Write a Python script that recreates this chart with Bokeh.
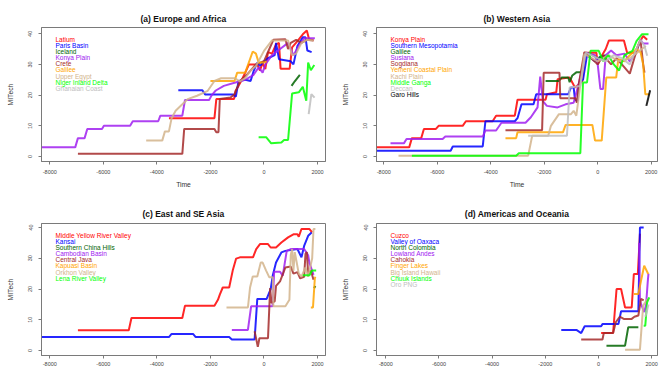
from bokeh.plotting import figure
from bokeh.models import Range1d, FixedTicker, Label
from bokeh.layouts import column, row
from bokeh.embed import file_html
from bokeh.resources import INLINE

FONT = "Liberation Sans"
YEAR_TICKS = [-8000, -6000, -4000, -2000, 0, 2000]
MITECH_TICKS = [0, 10, 20, 30, 40]

# ---------------- (a) Europe and Africa ----------------
latium = [(-3550, 12.5), (-1850, 12.5), (-1780, 18.7), (-1120, 18.7), (-1060, 21.4), (-950, 23), (-850, 24.6),
          (-700, 27.3), (-560, 30), (-250, 30), (-150, 28), (-50, 30.5), (50, 28.5), (150, 34), (300, 33.5),
          (450, 36.5), (560, 37), (620, 28.6), (960, 28.6), (1050, 35.5), (1250, 37.6), (1450, 39.8),
          (1600, 41), (1680, 38.3), (1850, 37.8)]
paris_basin = [(-3200, 21.6), (-2300, 21.6), (-2200, 20.2), (-1150, 20.2), (-1050, 19.5), (-950, 24.6),
               (-700, 25), (-500, 24.6), (-380, 28), (-250, 30.6), (-150, 29.5), (0, 31), (150, 32), (400, 33),
               (450, 37), (560, 31.7), (1000, 31), (1100, 30), (1250, 36), (1450, 38.8), (1550, 38.8),
               (1620, 34.5), (1780, 34)]
iceland = [(1030, 23), (1150, 24.5), (1340, 26.6)]
konya_a = [(-8330, 3), (-7050, 3), (-6950, 6), (-6700, 6), (-6600, 9), (-6050, 9), (-5980, 10), (-5000, 10),
           (-4900, 11.5), (-3950, 11.5), (-3870, 13.3), (-3050, 13.3), (-2950, 18.4), (-2050, 18.4),
           (-1950, 20), (-1800, 21.5), (-1500, 23), (-1100, 24), (-900, 24.5), (-700, 25), (-400, 26.5),
           (-200, 29), (-50, 27.3), (50, 30), (300, 33), (600, 35), (900, 37), (1100, 33), (1300, 36),
           (1500, 38.5), (1900, 38.5)]
crete = [(-6950, 0.9), (-3050, 0.9), (-2980, 9), (-1850, 9), (-1780, 7.9), (-1700, 7.9), (-1650, 18.7),
         (-1250, 19.2), (-1100, 20.3), (-900, 24.5), (-600, 27), (-300, 30), (0, 31), (200, 35), (350, 38),
         (800, 38.2), (900, 35), (1000, 37), (1200, 38), (1400, 37), (1600, 38), (1850, 37.8)]
galilee_a = [(-2000, 24.6), (-1100, 24.6), (-1000, 27.3), (-700, 27.3), (-420, 34.2), (-300, 33.5),
             (-200, 30.6), (0, 30.6), (100, 31)]
upper_egypt = [(-4400, 5.2), (-3800, 5.2), (-3700, 8.2), (-3550, 8.2), (-3450, 12.5), (-3300, 14.9),
               (-3050, 17), (-2850, 18.7), (-2500, 19.8), (-2100, 21.4), (-1850, 24.6), (-1600, 25.5),
               (-1100, 25.5), (-900, 24.5), (-700, 25.5), (-500, 28), (-300, 29.5), (0, 34.4), (300, 37.8),
               (900, 37.8), (1050, 33), (1200, 33.5), (1400, 37), (1600, 38), (1850, 37.8)]
niger_delta = [(-200, 6.3), (80, 6.3), (270, 4.3), (650, 4.6), (750, 5.4), (900, 5.4), (1050, 20.5),
               (1300, 20.9), (1450, 22.7), (1580, 18.2), (1650, 30.6), (1750, 28.1), (1880, 29.8)]
ghanaian_coast = [(1670, 13.8), (1770, 20.3), (1890, 19.2)]

# ---------------- (b) Western Asia ----------------
konya_b = [(-8300, 3), (-7050, 3), (-6950, 6), (-6600, 6), (-6500, 9), (-6050, 9), (-5950, 10), (-5050, 10),
           (-4930, 11.5), (-3930, 11.5), (-3800, 13.3), (-3100, 13.3), (-3000, 18.5), (-1950, 18.5),
           (-1900, 20.3), (-1550, 20.9), (-1500, 25.2), (-1050, 25.7), (-850, 22.5), (-700, 23.5),
           (-580, 24.6), (-450, 33.8), (-50, 33.8), (0, 30), (100, 32), (300, 35), (420, 37.8), (980, 37.8),
           (1100, 33.8), (1400, 33.8), (1550, 37), (1700, 39.2), (1850, 38)]
s_mesopotamia = [(-8300, 1.9), (-5500, 1.9), (-5420, 3.3), (-4300, 3.3), (-4200, 11.5), (-3100, 11.5),
                 (-3000, 12.5), (-2850, 17), (-2400, 17), (-2300, 20.3), (-1100, 20.3), (-1000, 22.5),
                 (-900, 22.5), (-850, 18.5), (-750, 18), (-700, 24), (-550, 25), (-400, 33), (-100, 31),
                 (100, 32.5), (350, 32.8)]
galilee_b = [(-1950, 24.6), (-1450, 24.6), (-1350, 25.7), (-1100, 25.7), (-1050, 24.2), (-950, 26.4),
             (-800, 27.4), (-600, 27.4), (-450, 33.8), (-200, 33), (0, 32), (300, 33)]
susiana = [(-7750, 4.3), (-7250, 4.3), (-7150, 5.7), (-5800, 5.7), (-5700, 6.5), (-4300, 6.5), (-4200, 8.5),
           (-3800, 8.5), (-3600, 11), (-2700, 11), (-2500, 12.8), (-2250, 16), (-2150, 26), (-2050, 18),
           (-1900, 16.5), (-1500, 16), (-1200, 17), (-900, 17.5), (-700, 24), (-450, 33.8), (-100, 33),
           (0, 30), (100, 22), (200, 22), (300, 33), (500, 34.5), (700, 33), (1000, 33.5), (1200, 31),
           (1400, 33), (1600, 38), (1700, 36.8), (1900, 36.8)]
sogdiana = [(-3450, 8.6), (-2080, 8.6), (-2020, 27.3), (-1430, 27.3), (-1400, 19), (-830, 19), (-780, 17.5),
            (-700, 24), (-500, 34), (0, 30), (200, 33), (500, 30), (700, 32), (1000, 29), (1200, 27),
            (1400, 33), (1600, 38), (1700, 30), (1750, 27.3)]
yemeni_coast = [(-3450, 6), (-3050, 6), (-3000, 7.9), (-1300, 7.9), (-1200, 10.3), (-200, 10.3), (-100, 5.2),
                (150, 5.2), (320, 25.7), (690, 25.7), (770, 31.7), (1000, 31), (1200, 33), (1450, 35),
                (1600, 34), (1700, 30), (1780, 20.3), (1950, 20.3)]
kachi_plain = [(-7450, 0.3), (-2600, 0.3), (-2450, 6.8), (-1850, 6.8), (-1750, 10), (-1450, 13.8),
               (-1000, 13.8), (-900, 14.9), (-800, 13.3), (-700, 20), (-500, 33.3), (0, 31), (400, 33),
               (800, 31), (1200, 32), (1500, 34), (1800, 36)]
middle_ganga = [(-6950, 0.3), (-3050, 0.3), (-2950, 1.1), (-650, 1.1), (-550, 24.1), (-400, 24.1),
                (-270, 34.4), (40, 34.4), (200, 31.1), (400, 33), (600, 30), (800, 28), (1000, 33),
                (1300, 34.4), (1450, 37.6), (1650, 39.8), (1900, 39.8)]
deccan = [(-2600, 6.8), (-1150, 6.8), (-1050, 22.5), (-650, 23), (-450, 33.8), (0, 32), (300, 31),
          (600, 33), (900, 32), (1200, 30), (1400, 34), (1600, 38), (1750, 36), (1850, 32.8)]
garo_hills = [(1820, 16.5), (1960, 21.6)]

# ---------------- (c) East and SE Asia ----------------
yellow_river = [(-6950, 6.6), (-5050, 6.6), (-4950, 10.6), (-3050, 10.6), (-2950, 14.6), (-1850, 14.6),
                (-1720, 16.5), (-1650, 18.2), (-1540, 20.5), (-1300, 20.5), (-1160, 26.3), (-1040, 29.9),
                (-900, 30.3), (-410, 30.3), (-290, 33), (-150, 34.6), (150, 34.6), (250, 33.5), (450, 33.5),
                (650, 35.1), (900, 36.8), (1100, 37.8), (1250, 37.8), (1300, 37), (1400, 39.5), (1700, 39.5),
                (1800, 38.4)]
kansai = [(-8330, 4.4), (-3550, 4.4), (-3450, 5.4), (-2650, 5.4), (-2550, 4.4), (-1300, 4.4), (-1200, 3.6),
          (-350, 3.6), (-250, 16.8), (100, 16.8), (250, 20), (330, 24.5), (450, 28.6), (650, 31.9),
          (800, 32.4), (1250, 33), (1400, 30.3), (1500, 34), (1650, 37.3), (1780, 38.4)]
s_china_hills = [(1870, 20.3), (1920, 21)]
cambodian_basin = [(-1200, 6.7), (-600, 6.7), (-480, 14.4), (320, 14.4), (380, 25.6), (600, 25.6),
                   (700, 24.3), (850, 32.4), (1000, 33), (1500, 33), (1650, 31), (1700, 28.4), (1850, 24.6)]
central_java = [(-350, 6.3), (-230, 1.2), (-170, 4), (150, 4), (230, 20.3), (280, 15.5), (400, 16),
                (450, 21), (600, 22.5), (800, 27), (1000, 27.3), (1100, 25), (1250, 25.5), (1350, 23.5),
                (1500, 24), (1550, 31.4), (1600, 32), (1650, 25), (1750, 26), (1850, 23)]
kapuasi_basin = [(1750, 14), (1830, 14), (1900, 23.5), (1920, 24)]
orkhon_valley = [(-1400, 14), (-600, 14), (-520, 20.5), (-420, 24.1), (-250, 24.1), (-120, 28.6), (-50, 28.6),
                 (80, 26), (200, 23.8), (330, 23.8), (350, 14.4), (800, 14.4), (950, 16.5), (1000, 31),
                 (1050, 33), (1100, 26), (1150, 32), (1300, 25), (1400, 24), (1550, 27), (1650, 24),
                 (1800, 30), (1850, 39.5), (1920, 39.5)]
lena_river = [(1450, 24.5), (1700, 24.5), (1800, 26), (1950, 26)]

# ---------------- (d) Americas and Oceania ----------------
cuzco = [(100, 5.7), (550, 5.7), (680, 20), (850, 20), (1000, 14), (1250, 14), (1330, 24.9), (1480, 24.9),
         (1560, 38)]
oaxaca = [(-1400, 6.7), (-830, 6.7), (-650, 5.7), (-520, 7.9), (100, 7.9), (150, 8.6), (750, 8.6),
          (850, 12.8), (1500, 12.8), (1560, 40), (1700, 40)]
north_colombia = [(300, 1.6), (1000, 1.6), (1120, 7.6), (1500, 7.6)]
lowland_andes = [(1530, 35), (1560, 16), (1650, 14), (1720, 12.5), (1790, 14.8), (1850, 22), (1880, 25)]
cahokia = [(-650, 3.6), (150, 3.6), (200, 5.7), (550, 5.7), (650, 9.2), (800, 11), (950, 10.3), (1250, 10.3),
           (1350, 11), (1500, 11.4), (1600, 16.8), (1700, 16.3)]
finger_lakes = [(1330, 18.4), (1500, 18.4), (1600, 22.7), (1720, 27.6), (1870, 24.9)]
big_island = [(1000, 0.3), (1560, 0.3), (1680, 14.6), (1850, 16.8)]
chuuk_islands = [(1700, 8.1), (1760, 8.1), (1830, 15.7), (1910, 17.3)]
oro_png = [(1760, 11), (1820, 12.8), (1880, 15)]

PALETTE = ["#FF0000", "#0000FF", "#006400", "#A020F0", "#A52A2A", "#FFA500", "#D2B48C", "#00FF00",
           "#BEBEBE", "#000000"]

names_a = ["Latium", "Paris Basin", "Iceland", "Konya Plain", "Crete", "Galilee", "Upper Egypt",
           "Niger Inland Delta", "Ghanaian Coast"]
series_a = [latium, paris_basin, iceland, konya_a, crete, galilee_a, upper_egypt, niger_delta, ghanaian_coast]
names_b = ["Konya Plain", "Southern Mesopotamia", "Galilee", "Susiana", "Sogdiana", "Yemeni Coastal Plain",
           "Kachi Plain", "Middle Ganga", "Deccan", "Garo Hills"]
series_b = [konya_b, s_mesopotamia, galilee_b, susiana, sogdiana, yemeni_coast, kachi_plain, middle_ganga,
            deccan, garo_hills]
names_c = ["Middle Yellow River Valley", "Kansai", "Southern China Hills", "Cambodian Basin", "Central Java",
           "Kapuasi Basin", "Orkhon Valley", "Lena River Valley"]
series_c = [yellow_river, kansai, s_china_hills, cambodian_basin, central_java, kapuasi_basin,
            orkhon_valley, lena_river]
colors_c = ["#FF0000", "#0000FF", "#006400", "#A020F0", "#A52A2A", "#FFA500", "#D2B48C", "#00FF00"]
names_d = ["Cuzco", "Valley of Oaxaca", "North Colombia", "Lowland Andes", "Cahokia", "Finger Lakes",
           "Big Island Hawaii", "Chuuk Islands", "Oro PNG"]
series_d = [cuzco, oaxaca, north_colombia, lowland_andes, cahokia, finger_lakes, big_island, chuuk_islands,
            oro_png]


def make_panel(title, names, colors, series, w, h, bl, br, bt, bb, xr, yr, title_gap, xlabel, xstand):
    p = figure(width=w, height=h, output_backend="svg", toolbar_location=None,
               x_range=Range1d(*xr), y_range=Range1d(*yr),
               min_border_left=bl, min_border_right=br, min_border_top=bt, min_border_bottom=bb)
    p.title.text = title
    p.title.text_font = FONT
    p.title.text_font_size = "8.5px"
    p.title.text_font_style = "bold"
    p.title.align = "center"
    p.title.standoff = title_gap
    p.title.text_color = "#111111"
    p.grid.visible = False
    p.outline_line_color = "#7a7a7a"
    p.outline_line_width = 1
    p.background_fill_color = "white"
    p.border_fill_color = "white"
    p.xaxis.ticker = FixedTicker(ticks=YEAR_TICKS, minor_ticks=[])
    p.xaxis.major_label_overrides = {t: str(t) for t in YEAR_TICKS}
    p.yaxis.ticker = FixedTicker(ticks=MITECH_TICKS, minor_ticks=[])
    p.yaxis.major_label_overrides = {t: str(t) for t in MITECH_TICKS}
    p.yaxis.major_label_orientation = "vertical"
    for ax in p.axis:
        ax.axis_line_color = "#7a7a7a"
        ax.major_tick_line_color = "#7a7a7a"
        ax.major_tick_out = 3
        ax.major_tick_in = 0
        ax.minor_tick_line_color = None
        ax.major_label_text_font = FONT
        ax.major_label_text_font_size = "5.5px"
        ax.major_label_text_color = "#444444"
        ax.axis_label_text_font = FONT
        ax.axis_label_text_font_size = "6.75px"
        ax.axis_label_text_font_style = "normal"
        ax.axis_label_text_color = "#333333"
    p.xaxis.major_label_standoff = xstand
    p.yaxis.major_label_standoff = 6
    p.yaxis.axis_label = "MITech"
    p.yaxis.axis_label_standoff = 12
    if xlabel:
        p.xaxis.axis_label = xlabel
        p.xaxis.axis_label_standoff = 4
    frame_h = h - bt - bb
    for i, (name, color, pts) in enumerate(zip(names, colors, series)):
        xs = [q[0] for q in pts]
        ys = [q[1] for q in pts]
        p.line(xs, ys, line_color=color, line_width=2.0, line_alpha=0.85)
        p.add_layout(Label(x=14, y=frame_h - 11.5 - i * 6.17, x_units="screen", y_units="screen",
                           text=name, text_color=color, text_font=FONT, text_font_size="6.5px",
                           text_baseline="middle", text_align="left"))
    return p


pa = make_panel("(a) Europe and Africa", names_a, PALETTE[:9], series_a, 329, 190, 41, 4, 27, 29,
                (-8310, 2298), (-1.6, 42.0), 8, "Time", 5)
pb = make_panel("(b) Western Asia", names_b, PALETTE[:10], series_b, 330, 190, 47, 2, 27, 29,
                (-8273, 2236), (-1.6, 42.0), 8, "Time", 5)
pc = make_panel("(c) East and SE Asia", names_c, colors_c, series_c, 329, 178, 41, 4, 33, 13,
                (-8310, 2298), (-1.6, 41.3), 10, None, 3)
pd = make_panel("(d) Americas and Oceania", names_d, PALETTE[:9], series_d, 330, 178, 47, 2, 33, 13,
                (-8350, 2220), (-1.6, 41.3), 10, None, 3)

layout = column(row(pa, pb), row(pc, pd))
open("out.html", "w").write(file_html(layout, INLINE))
